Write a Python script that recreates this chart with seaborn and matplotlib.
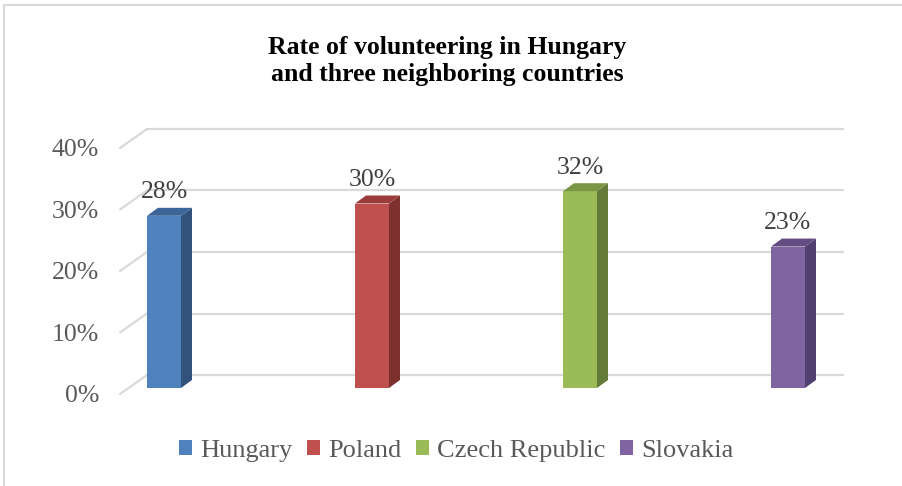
import matplotlib
matplotlib.use("Agg")
import matplotlib.pyplot as plt
from matplotlib.patches import Polygon, Patch
from matplotlib.lines import Line2D
import seaborn as sns
import pandas as pd

# --- data ---
countries = ["Hungary", "Poland", "Czech Republic", "Slovakia"]
rates = [28, 30, 32, 23]          # percent
y_ticks = [0, 10, 20, 30, 40]
y_tick_labels = ["0%", "10%", "20%", "30%", "40%"]
title = "Rate of volunteering in Hungary\nand three neighboring countries"

front_colors = ["#4F81BD", "#C0504D", "#9BBB59", "#8064A2"]
top_colors = ["#3C6598", "#9A3C3A", "#7A9544", "#644C83"]
side_colors = ["#30527C", "#7E302E", "#647A38", "#524070"]

sns.set_theme(style="white")
plt.rcParams["font.family"] = ["Liberation Serif", "DejaVu Serif"]

W, H, DPI = 903, 486, 100
fig = plt.figure(figsize=(W / DPI, H / DPI), dpi=DPI)

# pixel geometry of the plot box
ax_l, ax_r, ax_t, ax_b = 100, 860, 110, 400
cat_px = 208.0       # pixels per category
x0_px = 164.0        # centre of first category
pct_px = 6.15        # pixels per percent
y0_px = 388.0        # baseline of bar fronts

ax = fig.add_axes([ax_l / W, 1 - ax_b / H, (ax_r - ax_l) / W, (ax_b - ax_t) / H])

df = pd.DataFrame({"country": countries, "rate": rates})
bar_w = 34 / cat_px
sns.barplot(data=df, x="country", y="rate", hue="country", palette=front_colors,
            width=bar_w, saturation=1, legend=False, ax=ax, zorder=3,
            edgecolor="none")
ax.set_xlim((ax_l - x0_px) / cat_px, (ax_r - x0_px) / cat_px)
ax.set_ylim((y0_px - ax_b) / pct_px, (y0_px - ax_t) / pct_px)

# depth of the 3-D extrusion
dx = 11 / cat_px
dy = 8 / pct_px
for i, p in enumerate(ax.patches[:len(countries)]):
    x, w, h = p.get_x(), p.get_width(), p.get_height()
    side = Polygon([(x + w, 0), (x + w + dx, dy), (x + w + dx, h + dy), (x + w, h)],
                   closed=True, facecolor=side_colors[i], edgecolor="none", zorder=3)
    top = Polygon([(x, h), (x + dx, h + dy), (x + w + dx, h + dy), (x + w, h)],
                  closed=True, facecolor=top_colors[i], edgecolor="none", zorder=3)
    ax.add_patch(side)
    ax.add_patch(top)
    ax.text(x + w / 2, h + 23.5 / pct_px, f"{rates[i]}%", ha="center", va="center",
            fontsize=18.5, color="#404040", zorder=4)

# back-wall gridlines with short perspective stubs
grid_c = "#D9D9D9"
back_x0, back_x1 = (147 - x0_px) / cat_px, (843 - x0_px) / cat_px
front_x = (120 - x0_px) / cat_px
back_dy = 13 / pct_px
front_dy = -6 / pct_px
label_x = (99 - ax_l) / (ax_r - ax_l)
for v, lab in zip(y_ticks, y_tick_labels):
    ax.add_line(Line2D([back_x0, back_x1], [v + back_dy, v + back_dy],
                       color=grid_c, lw=1.6, zorder=1))
    ax.add_line(Line2D([front_x, back_x0], [v + front_dy, v + back_dy],
                       color=grid_c, lw=1.6, zorder=1))
    ax.text(label_x, v + front_dy - 2 / pct_px, lab, transform=ax.get_yaxis_transform(),
            ha="right", va="center", fontsize=18.5, color="#595959")

ax.set_xticks([])
ax.set_yticks([])
ax.set_xlabel("")
ax.set_ylabel("")
for s in ax.spines.values():
    s.set_visible(False)
ax.patch.set_alpha(0)

# title
fig.text(447 / W, 1 - 61 / H, title, ha="center", va="center", fontsize=18.5,
         fontweight="bold", color="#000000", linespacing=1.2)

# legend
handles = [Patch(facecolor=c, edgecolor="none") for c in front_colors]
leg = fig.legend(handles, countries, loc="center", bbox_to_anchor=(456 / W, 1 - 451 / H),
                 ncol=4, frameon=False, fontsize=19, handlelength=0.5,
                 handleheight=0.5, handletextpad=0.3, columnspacing=0.55,
                 borderaxespad=0)
for t in leg.get_texts():
    t.set_color("#595959")

# chart frame (top and left edges)
fig.add_artist(Line2D([4.5 / W, 1.0], [1 - 5 / H, 1 - 5 / H], color=grid_c, lw=1.5))
fig.add_artist(Line2D([4.5 / W, 4.5 / W], [0, 1 - 5 / H], color=grid_c, lw=1.5))

fig.savefig("out.png", dpi=DPI, facecolor="white")
